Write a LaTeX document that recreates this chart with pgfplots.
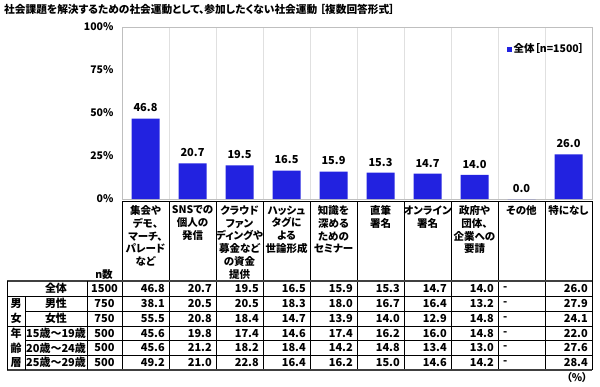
\documentclass[border=0pt]{standalone}
\usepackage{pgfplots}
\pgfplotsset{compat=1.18}
\usepackage{fontspec}
\setmainfont{Noto Sans CJK JP}[RawFeature=+palt]
\definecolor{barblue}{RGB}{34,34,224}
\begin{document}
\begin{tikzpicture}
\path[use as bounding box] (0pt,0pt) rectangle (600pt,-386pt);
\begin{axis}[
  at={(122pt,-199pt)}, anchor=south west,
  scale only axis, width=470pt, height=172pt,
  xmin=-0.5, xmax=9.5, ymin=0, ymax=100,
  ytick={0,25,50,75,100},
  yticklabels={0\%,25\%,50\%,75\%,100\%},
  xtick={0.5,1.5,...,8.5}, xticklabels={},
  xmajorgrids, major grid style={draw=black!12},
  major tick length=0pt,
  axis line style={draw=black!25},
  tick label style={font=\fontsize{10.5}{12}\selectfont\bfseries},
  yticklabel style={xshift=-5pt},
  ybar, bar width=28pt,
  nodes near coords={\pgfmathprintnumber[fixed,fixed zerofill,precision=1,assume math mode=true]{\pgfplotspointmeta}},
  nodes near coords style={font=\fontsize{11}{12}\selectfont\bfseries, yshift=3pt},
  legend style={at={(0.818,0.872)}, anchor=west, draw=none, fill=none,
    font=\fontsize{10.5}{12}\selectfont\bfseries, inner sep=0pt},
  legend image code/.code={\fill[barblue] (0pt,-2.5pt) rectangle (5pt,2.5pt);},
]
\addplot[fill=barblue, draw=none] coordinates {
 (0,46.8) (1,20.7) (2,19.5) (3,16.5) (4,15.9) (5,15.3) (6,14.7) (7,14.0) (8,0.0) (9,26.0)};
\addlegendentry{全体［n=1500］}
\end{axis}
\begin{scope}[x=1pt,y=-1pt]
\node[anchor=west, inner sep=0pt, font=\fontsize{10.7}{12}\selectfont\bfseries] at (4,9)
  {社会課題を解決するための社会運動として、参加したくない社会運動 ［複数回答形式］};
% header box
\draw[black, line width=0.7pt] (122,201) -- (592,201);
\foreach \k in {0,...,10} \draw[black, line width=0.7pt] ({122+47*\k},201) -- ({122+47*\k},370);
\tikzset{hdr/.style={anchor=north, align=center, inner sep=0pt, font=\fontsize{10.5}{12.7}\selectfont\bfseries}}
\node[hdr] at (145.5,205.5) {集会や\\デモ、\\マーチ、\\パレード\\など};
\node[hdr] at (192.5,205.5) {SNSでの\\個人の\\発信};
\node[hdr] at (239.5,205.5) {クラウド\\ファン\\ディングや\\募金など\\の資金\\提供};
\node[hdr] at (286.5,205.5) {ハッシュ\\タグに\\よる\\世論形成};
\node[hdr] at (333.5,205.5) {知識を\\深める\\ための\\セミナー};
\node[hdr] at (380.5,205.5) {直筆\\署名};
\node[hdr] at (427.5,205.5) {オンライン\\署名};
\node[hdr] at (474.5,205.5) {政府や\\団体、\\企業への\\要請};
\node[hdr] at (521.5,205.5) {その他};
\node[hdr] at (568.5,205.5) {特になし};
\node[hdr, anchor=center] at (104,275) {n数};
% table lines
\draw[black!75, line width=1.3pt] (7,281) -- (592,281);
\draw[black!75, line width=1.3pt] (7,370) -- (592,370);
\draw[black, line width=0.7pt] (7,281) -- (7,370);
\draw[black, line width=0.7pt] (87,281) -- (87,370);
\draw[black, line width=0.7pt] (25,296) -- (25,370);
\draw[black, line width=0.7pt] (7,296) -- (592,296);
\draw[black, line width=0.7pt] (25,311) -- (592,311);
\draw[black, line width=0.7pt] (7,326) -- (592,326);
\draw[black, line width=0.7pt] (25,340.5) -- (592,340.5);
\draw[black, line width=0.7pt] (25,355) -- (592,355);
% row labels
\tikzset{cell/.style={inner sep=0pt, font=\fontsize{11}{12}\selectfont\bfseries}}
\foreach \yy/\lab/\n in {288.5/全体/1500, 303.5/男性/750, 318.5/女性/750,
   333.3/15歳～19歳/500, 348/20歳～24歳/500, 362.5/25歳～29歳/500}{
  \node[cell] at (56,\yy) {\lab};
  \node[cell] at (104.5,\yy) {\n};
  \node[cell, anchor=west] at (503,\yy) {-};
}
\node[cell] at (16,303.5) {男};
\node[cell] at (16,318.5) {女};
\node[cell] at (16,333.3) {年};
\node[cell] at (16,348) {齢};
\node[cell] at (16,362.5) {層};
% values
\foreach \yy/\vals in {
  288.5/{46.8,20.7,19.5,16.5,15.9,15.3,14.7,14.0,26.0},
  303.5/{38.1,20.5,20.5,18.3,18.0,16.7,16.4,13.2,27.9},
  318.5/{55.5,20.8,18.4,14.7,13.9,14.0,12.9,14.8,24.1},
  333.3/{45.6,19.8,17.4,14.6,17.4,16.2,16.0,14.8,22.0},
  348/{45.6,21.2,18.2,18.4,14.2,14.8,13.4,13.0,27.6},
  362.5/{49.2,21.0,22.8,16.4,16.2,15.0,14.6,14.2,28.4}}{
  \foreach \v [count=\c] in \vals {
    \pgfmathsetmacro{\cx}{\c<9 ? 122+47*\c-4 : 588}
    \node[cell, anchor=east] at (\cx,\yy) {\v};
  }
}
\node[inner sep=0pt, font=\fontsize{10.5}{12}\selectfont\bfseries] at (577,378) {（\%）};
\end{scope}
\end{tikzpicture}
\end{document}
